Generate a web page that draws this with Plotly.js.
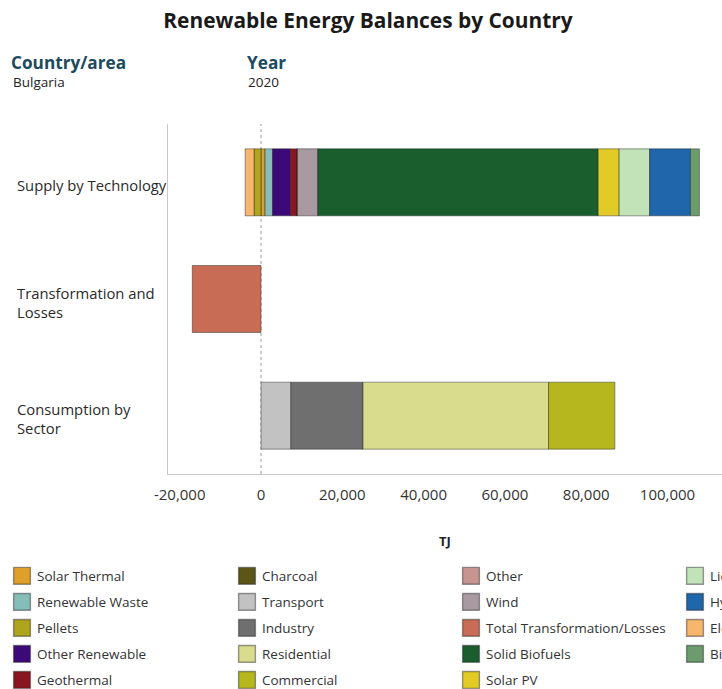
<!DOCTYPE html>
<html>
<head>
<meta charset="utf-8">
<script src="https://cdn.plot.ly/plotly-3.0.1.min.js"></script>
<style>
  html, body { margin: 0; padding: 0; background: #fff; overflow: hidden; }
  #chart { width: 722px; height: 689px; }
  .legendpoints path {
    transform-box: fill-box !important;
    transform-origin: center !important;
    transform: translate(25px, 0px) scale(1.4) !important;
  }
</style>
</head>
<body>
<div id="chart"></div>
<script>
// ---- data (TJ) ----
const categories = ['Supply by Technology', 'Transformation and Losses', 'Consumption by Sector'];
const categoryLabels = ['Supply by Technology', 'Transformation and<br>Losses', 'Consumption by<br>Sector'];

// supply by technology (stack order from the zero line outwards)
const supplyNames  = ['Solar Thermal', 'Pellets', 'Renewable Waste', 'Other Renewable', 'Geothermal', 'Charcoal', 'Other', 'Wind', 'Solid Biofuels', 'Solar PV', 'Liquid Biofuels', 'Hydropower', 'Electricity', 'Biogas'];
const supplyValues = [1000, -1700, 1850, 4400, 1700, 0, 0, 5000, 69000, 5150, 7500, 10050, -2200, 2200];

// transformation and losses
const transformNames  = ['Total Transformation/Losses'];
const transformValues = [-16900];

// consumption by sector
const consumptionNames  = ['Transport', 'Industry', 'Residential', 'Commercial'];
const consumptionValues = [7350, 17750, 45650, 16300];

// colours per series
const seriesColors = {
  'Solar Thermal': '#DFA02B',
  'Renewable Waste': '#86BDB8',
  'Pellets': '#AFA41E',
  'Other Renewable': '#3C0A78',
  'Geothermal': '#8A1620',
  'Charcoal': '#5B5516',
  'Transport': '#C2C2C2',
  'Industry': '#6F6F70',
  'Residential': '#D9DC8C',
  'Commercial': '#B6B71E',
  'Other': '#C6958F',
  'Wind': '#A99AA1',
  'Total Transformation/Losses': '#C96C56',
  'Solid Biofuels': '#1B5E2D',
  'Solar PV': '#E2CB27',
  'Liquid Biofuels': '#C2E2B8',
  'Hydropower': '#1F66AA',
  'Electricity': '#F6B66B',
  'Biogas': '#6C9B6D'
};

// legend columns (column-major, as in the picture)
const legendColumns = [
  ['Solar Thermal', 'Renewable Waste', 'Pellets', 'Other Renewable', 'Geothermal'],
  ['Charcoal', 'Transport', 'Industry', 'Residential', 'Commercial'],
  ['Other', 'Wind', 'Total Transformation/Losses', 'Solid Biofuels', 'Solar PV'],
  ['Liquid Biofuels', 'Hydropower', 'Electricity', 'Biogas']
];

// x-axis ticks
const tickValues = [-20000, 0, 20000, 40000, 60000, 80000, 100000];
const tickLabels = ['-20,000', '0', '20,000', '40,000', '60,000', '80,000', '100,000'];

// ---- build ----
const legendIds = ['legend', 'legend2', 'legend3', 'legend4'];
function legendInfo(name) {
  for (let c = 0; c < legendColumns.length; c++) {
    const r = legendColumns[c].indexOf(name);
    if (r >= 0) return { legend: legendIds[c], rank: r + 1 };
  }
  return { legend: 'legend', rank: 99 };
}
function mkTrace(name, value, cat) {
  const li = legendInfo(name);
  return {
    type: 'bar', orientation: 'h', name: name,
    x: [value], y: [cat],
    marker: { color: seriesColors[name], line: { color: 'rgba(30,30,30,0.45)', width: 1 } },
    legend: li.legend, legendrank: li.rank, legendgroup: name,
    hoverinfo: 'name+x'
  };
}
const traces = [];
supplyNames.forEach((n, i) => traces.push(mkTrace(n, supplyValues[i], categories[0])));
transformNames.forEach((n, i) => traces.push(mkTrace(n, transformValues[i], categories[1])));
consumptionNames.forEach((n, i) => traces.push(mkTrace(n, consumptionValues[i], categories[2])));

const W = 722, H = 689;
const mL = 168, mR = 0, mT = 124, mB = 215;
const pw = W - mL - mR, ph = H - mT - mB;
const px2x = p => (p - mL) / pw;
const py2y = p => (H - mB - p) / ph;

const font = 'Open Sans, Noto Sans, sans-serif';
const legendBase = {
  orientation: 'v', xanchor: 'left', yanchor: 'top', y: py2y(560.5),
  bgcolor: 'rgba(0,0,0,0)', traceorder: 'grouped', tracegroupgap: 5.5,
  font: { family: font, size: 13.5, color: '#333' }, itemclick: false, itemdoubleclick: false
};
const legendX = [px2x(-3), px2x(222), px2x(446), px2x(670)];

const annotations = [
  { text: '<b>Country/area</b>', xref: 'paper', yref: 'paper', x: px2x(9), y: py2y(63), xanchor: 'left', yanchor: 'middle', showarrow: false, font: { family: font, size: 17.2, color: '#1C4A5E' } },
  { text: 'Bulgaria', xref: 'paper', yref: 'paper', x: px2x(11), y: py2y(82), xanchor: 'left', yanchor: 'middle', showarrow: false, font: { family: font, size: 13.5, color: '#222' } },
  { text: '<b>Year</b>', xref: 'paper', yref: 'paper', x: px2x(245), y: py2y(63), xanchor: 'left', yanchor: 'middle', showarrow: false, font: { family: font, size: 17.2, color: '#1C4A5E' } },
  { text: '2020', xref: 'paper', yref: 'paper', x: px2x(246), y: py2y(82), xanchor: 'left', yanchor: 'middle', showarrow: false, font: { family: font, size: 13.5, color: '#222' } }
];
categories.forEach((c, i) => annotations.push({
  text: categoryLabels[i], xref: 'paper', yref: 'y', x: px2x(14.5), y: c,
  xanchor: 'left', yanchor: 'middle', align: 'left', showarrow: false, yshift: -3,
  font: { family: font, size: 14.8, color: '#2a2a2a' }
}));

const layout = {
  width: W, height: H,
  margin: { l: mL, r: mR, t: mT, b: mB, pad: 0, autoexpand: false },
  paper_bgcolor: '#fff', plot_bgcolor: '#fff',
  font: { family: font, color: '#333' },
  title: { text: '<b>Renewable Energy Balances by Country</b>', font: { family: font, size: 20.9, color: '#1a1a1a' },
           xref: 'container', yref: 'container', x: 368 / W, y: 1 - 21 / H, xanchor: 'center', yanchor: 'middle' },
  barmode: 'relative', bargap: 0.426,
  xaxis: {
    range: [-(261 - mL) / 4.065 * 1000, (W - 261) / 4.065 * 1000],
    tickvals: tickValues, ticktext: tickLabels,
    showgrid: false, zeroline: false, showline: true, linecolor: '#C9C9C9', linewidth: 1,
    ticks: '', ticklabelstandoff: 7,
    tickfont: { family: font, size: 15, color: '#333' },
    title: { text: '<b>TJ</b>', font: { family: font, size: 13, color: '#222' }, standoff: 33 },
    fixedrange: true
  },
  yaxis: {
    type: 'category', categoryorder: 'array', categoryarray: categories,
    range: [2.5, -0.5], showticklabels: false, showgrid: false, zeroline: false,
    showline: true, linecolor: '#C9C9C9', linewidth: 1, ticks: '', fixedrange: true
  },
  shapes: [
    { type: 'line', xref: 'x', yref: 'paper', x0: 0, x1: 0, y0: 0, y1: 1, layer: 'below',
      line: { color: '#9a9a9a', width: 1, dash: 'dot' } }
  ],
  annotations: annotations,
  showlegend: true
};
legendIds.forEach((id, i) => { layout[id] = Object.assign({}, legendBase, { x: legendX[i] }); });

Plotly.newPlot('chart', traces, layout, { displayModeBar: false, responsive: false });
</script>
</body>
</html>
